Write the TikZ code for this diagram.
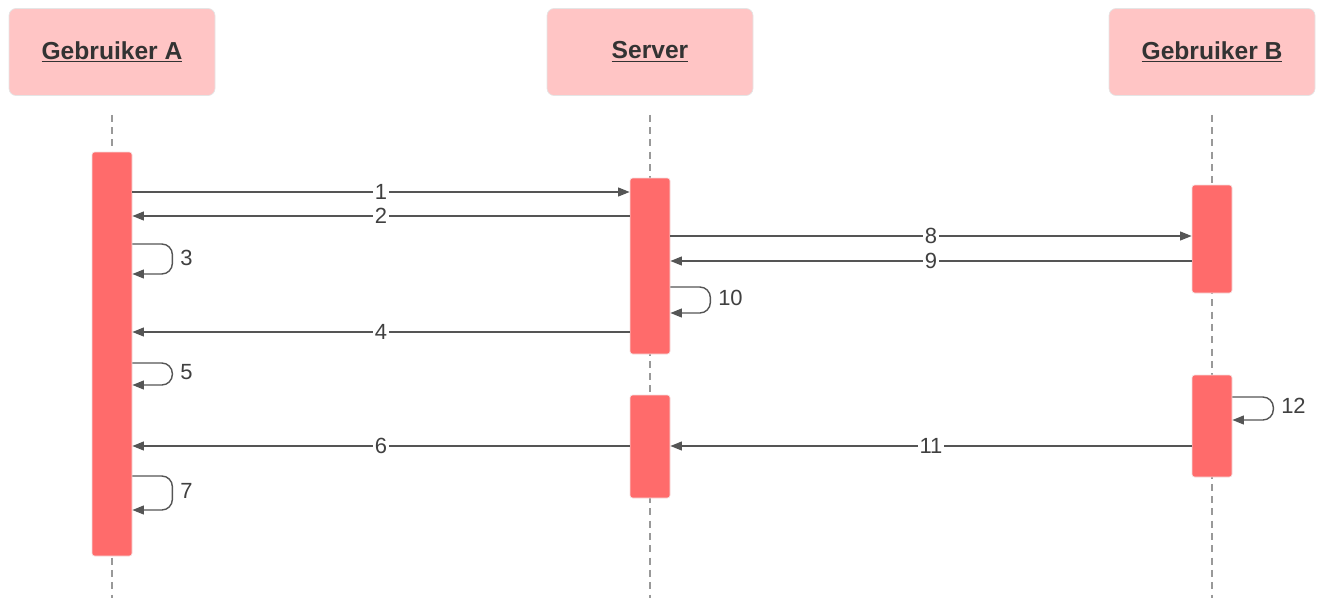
\documentclass[tikz,border=0pt]{standalone}
\usepackage{fontspec}
\setmainfont{Liberation Sans}
\usetikzlibrary{calc,positioning,arrows.meta}
\definecolor{headfill}{HTML}{FFC5C5}
\definecolor{barfill}{HTML}{FF6B6B}
\definecolor{linegray}{HTML}{555555}
\tikzset{
  actor/.style={draw=black!10, fill=headfill, rounded corners=4pt, minimum width=206*0.02cm, minimum height=87*0.02cm, font=\bfseries\fontsize{14}{16}\selectfont, text=black!80},
  bar/.style={draw=barfill!80!black!20, fill=barfill, rounded corners=1.5pt, minimum width=40*0.02cm, inner sep=0pt},
  life/.style={draw=black!40, line width=0.8pt, dash pattern=on 4pt off 3pt},
  msg/.style={draw=linegray, line width=0.8pt, -{Triangle[length=6.5pt,width=5pt]}},
  loop/.style={msg, rounded corners=6pt},
  lbl/.style={fill=white, inner sep=1pt, font=\fontsize{12.5}{14}\selectfont, text=black!75},
  rlbl/.style={right, inner sep=4.5pt, font=\fontsize{12.5}{14}\selectfont, text=black!75}
}
\begin{document}
\begin{tikzpicture}[x=0.02cm,y=-0.02cm]
  \useasboundingbox (0,0) rectangle (1317,598);
  \node[actor] (usrA) at (112,52) {\underline{Gebruiker A}};
  \node[actor] (srv) at (650,52) {\underline{Server}};
  \node[actor] (usrB) at (1212,52) {\underline{Gebruiker B}};
  \coordinate (endA) at (112,598);
  \coordinate (endS) at (650,598);
  \coordinate (endB) at (1212,598);
  \draw[life] (usrA.south) ++(0,19) -- (endA);
  \draw[life] (srv.south) ++(0,19) -- (endS);
  \draw[life] (usrB.south) ++(0,19) -- (endB);
  \node[bar, minimum height=404*0.02cm] (barA) at (112,354) {};
  \node[bar, minimum height=176*0.02cm] (barS1) at (650,266) {};
  \node[bar, minimum height=103*0.02cm] (barS2) at (650,446.5) {};
  \node[bar, minimum height=108*0.02cm] (barB1) at (1212,239) {};
  \node[bar, minimum height=102*0.02cm] (barB2) at (1212,426) {};

  \draw[msg] (barA.east |- 0,192) -- node[lbl] (m1) {1} (barS1.west |- 0,192);
  \draw[msg] (barS1.west |- 0,216) -- node[lbl] (m2) {2} (barA.east |- 0,216);
  \draw[loop] (barA.east |- 0,244) -- ++(40,0) -- ++(0,30) -- (barA.east |- 0,274);
  \node[rlbl] (m3) at (172,258) {3};
  \draw[msg] (barS1.east |- 0,236) -- node[lbl] (m8) {8} (barB1.west |- 0,236);
  \draw[msg] (barB1.west |- 0,261) -- node[lbl] (m9) {9} (barS1.east |- 0,261);
  \draw[loop] (barS1.east |- 0,287) -- ++(40,0) -- ++(0,26) -- (barS1.east |- 0,313);
  \node[rlbl] (m10) at (710,298) {10};
  \draw[msg] (barS1.west |- 0,332) -- node[lbl] (m4) {4} (barA.east |- 0,332);
  \draw[loop] (barA.east |- 0,363) -- ++(40,0) -- ++(0,22) -- (barA.east |- 0,385);
  \node[rlbl] (m5) at (172,372) {5};
  \draw[loop] (barB2.east |- 0,397) -- ++(41,0) -- ++(0,23) -- (barB2.east |- 0,420);
  \node[rlbl] (m12) at (1273,406) {12};
  \draw[msg] (barS2.west |- 0,446) -- node[lbl] (m6) {6} (barA.east |- 0,446);
  \draw[msg] (barB2.west |- 0,446) -- node[lbl] (m11) {11} (barS2.east |- 0,446);
  \draw[loop] (barA.east |- 0,476) -- ++(40,0) -- ++(0,34) -- (barA.east |- 0,510);
  \node[rlbl] (m7) at (172,491) {7};
\end{tikzpicture}
\end{document}
